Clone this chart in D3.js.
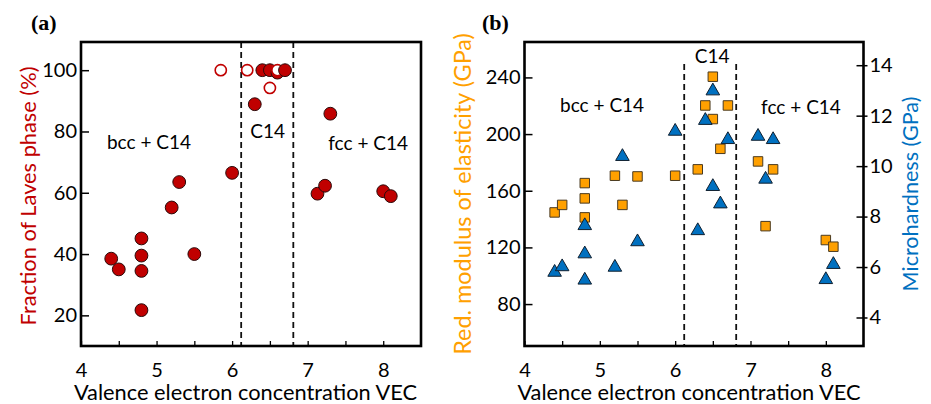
<!DOCTYPE html>
<html>
<head>
<meta charset="utf-8">
<script src="https://cdn.jsdelivr.net/npm/d3@7"></script>
<style>
  html, body { margin: 0; padding: 0; background: #fff; }
  svg { display: block; font-family: Lato, "Open Sans", sans-serif; }
</style>
</head>
<body>
<svg id="chart" width="931" height="404"></svg>
<script>
// ---- Panel (a): fraction of Laves phase vs VEC (draw order kept) ----
const fracVEC    = [4.4, 4.5, 4.8, 4.8, 4.8, 4.8, 5.2, 5.3, 5.5, 6.0, 6.3, 6.4, 6.5, 6.6, 7.13, 7.23, 7.3, 8.0, 8.1, 5.85, 6.2, 6.5, 6.6, 6.7];
const fracValue  = [38.5, 35, 45.1, 39.5, 34.5, 21.7, 55.2, 63.5, 40, 66.5, 88.9, 100, 100, 99.2, 59.7, 62.3, 85.8, 60.5, 58.9, 100, 100, 94.2, 100, 100];
const fracHollow = [false, false, false, false, false, false, false, false, false, false, false, false, false, false, false, false, false, false, false, true, true, true, true, false];

// ---- Panel (b): reduced modulus (squares, left axis) ----
const modVEC   = [4.4, 4.5, 4.8, 4.8, 4.8, 5.2, 5.3, 5.5, 6.0, 6.3, 6.4, 6.5, 6.5, 6.7, 6.6, 7.1, 7.3, 7.2, 8.0, 8.1];
const modValue = [144.7, 150, 165.4, 154.6, 141.2, 170.6, 150, 170.1, 170.6, 175.1, 220.2, 240.5, 210.6, 220.2, 189.6, 180.7, 175.1, 135, 125.2, 120.5];

// ---- Panel (b): microhardness (triangles, right axis) ----
const hardVEC   = [4.4, 4.5, 4.8, 4.8, 4.8, 5.2, 5.3, 5.5, 6.0, 6.3, 6.4, 6.5, 6.5, 6.6, 6.7, 7.1, 7.3, 7.2, 8.0, 8.1];
const hardValue = [5.79, 6.01, 7.64, 6.52, 5.48, 5.99, 10.38, 7.0, 11.38, 7.44, 11.81, 12.98, 9.19, 8.5, 11.05, 11.18, 11.05, 9.48, 5.5, 6.1];

// ---- Axis ticks, phase boundaries and region labels ----
const vecTicks   = [4, 4.5, 5, 5.5, 6, 6.5, 7, 7.5, 8];
const fracTicks  = [20, 40, 60, 80, 100];
const modTicks   = [80, 120, 160, 200, 240];
const hardTicks  = [4, 6, 8, 10, 12, 14];
const boundaries = [6.12, 6.81];
const regionA = [{t: "bcc + C14", x: 4.9, y: 76.6}, {t: "C14", x: 6.47, y: 80.4}, {t: "fcc + C14", x: 7.8, y: 76.3}];
const regionB = [{t: "bcc + C14", x: 5.03, y: 221.2}, {t: "C14", x: 6.49, y: 255.7}, {t: "fcc + C14", x: 7.67, y: 219.8}];

const RED = "#c00000", ORANGE = "#ffa000", BLUE = "#0070c0";
const svg = d3.select("#chart");
const plotTop = 42, plotBottom = 346;
const tickFont = 20;

function frame(g, x0, x1) {
  g.append("rect").attr("x", x0).attr("y", plotTop).attr("width", x1 - x0).attr("height", plotBottom - plotTop)
    .attr("fill", "none").attr("stroke", "#000").attr("stroke-width", 2.6);
}

function xAxis(g, x) {
  const ax = g.append("g").attr("transform", `translate(0,${plotBottom})`)
    .call(d3.axisBottom(x).tickValues(vecTicks).tickSizeInner(-5).tickSizeOuter(0).tickPadding(17)
      .tickFormat(d => Number.isInteger(d) ? d : ""));
  ax.select(".domain").remove();
  ax.selectAll("line").attr("stroke", "#000").attr("stroke-width", 1.3);
  ax.selectAll("text").attr("font-size", tickFont).attr("fill", "#000").attr("font-family", "Lato");
}

function dashed(g, x, yStart) {
  g.selectAll(null).data(boundaries).join("line")
    .attr("x1", d => x(d)).attr("x2", d => x(d))
    .attr("y1", yStart).attr("y2", plotBottom)
    .attr("stroke", "#111").attr("stroke-width", 1.8).attr("stroke-dasharray", "6,4");
}

// ===== Panel (a) =====
{
  const x0 = 81, x1 = 421;
  const x = d3.scaleLinear().domain([4, 8.5]).range([x0, x1]);
  const y = d3.scaleLinear().domain([10, 109.2]).range([plotBottom, plotTop]);
  const g = svg.append("g");

  dashed(g, x, plotTop);

  const ay = g.append("g").attr("transform", `translate(${x0},0)`)
    .call(d3.axisLeft(y).tickValues(fracTicks).tickSizeInner(-8).tickSizeOuter(0).tickPadding(4));
  ay.select(".domain").remove();
  ay.selectAll("line").attr("stroke", "#000").attr("stroke-width", 1.5);
  ay.selectAll("text").attr("font-size", tickFont).attr("fill", "#000").attr("font-family", "Lato");
  xAxis(g, x);

  g.selectAll(null).data(regionA).join("text")
    .attr("x", d => x(d.x)).attr("y", d => y(d.y)).attr("text-anchor", "middle")
    .attr("dominant-baseline", "central").attr("font-size", 19).text(d => d.t);

  g.selectAll(null).data(fracVEC.map((v, i) => ({v, f: fracValue[i], h: fracHollow[i]}))).join("circle")
    .attr("cx", d => x(d.v)).attr("cy", d => y(d.f))
    .attr("r", d => d.h ? 5.6 : 6.4)
    .attr("fill", d => d.h ? "#fff" : RED)
    .attr("stroke", d => d.h ? RED : "#2a0a0a")
    .attr("stroke-width", d => d.h ? 1.6 : 1);

  frame(g, x0, x1);

  g.append("text").attr("transform", `translate(27,${(plotTop + plotBottom) / 2 + 2}) rotate(-90)`)
    .attr("text-anchor", "middle").attr("dominant-baseline", "central")
    .attr("font-size", 21.8).attr("fill", RED).text("Fraction of Laves phase (%)");
  g.append("text").attr("x", 245.5).attr("y", 391).attr("text-anchor", "middle")
    .attr("dominant-baseline", "central").attr("font-size", 21.8).text("Valence electron concentration VEC");
  g.append("text").attr("x", 31).attr("y", 30).attr("font-family", "Liberation Serif")
    .attr("font-weight", "bold").attr("font-size", 22).text("(a)");
}

// ===== Panel (b) =====
{
  const x0 = 524.5, x1 = 863.5;
  const x = d3.scaleLinear().domain([4, 8.5]).range([x0, x1]);
  const yL = d3.scaleLinear().domain([50.4, 265]).range([plotBottom, plotTop]);
  const yR = d3.scaleLinear().domain([2.87, 14.92]).range([plotBottom, plotTop]);
  const g = svg.append("g");

  dashed(g, x, 64);

  const aL = g.append("g").attr("transform", `translate(${x0},0)`)
    .call(d3.axisLeft(yL).tickValues(modTicks).tickSizeInner(-8).tickSizeOuter(0).tickPadding(4));
  aL.select(".domain").remove();
  aL.selectAll("line").attr("stroke", "#000").attr("stroke-width", 1.5);
  aL.selectAll("text").attr("font-size", tickFont).attr("fill", "#000").attr("font-family", "Lato");

  const aR = g.append("g").attr("transform", `translate(${x1},0)`)
    .call(d3.axisRight(yR).tickValues(hardTicks).tickSizeInner(4).tickSizeOuter(0).tickPadding(2));
  aR.select(".domain").remove();
  aR.selectAll("line").attr("x1", -7).attr("stroke", "#000").attr("stroke-width", 1.5);
  aR.selectAll("text").attr("font-size", tickFont).attr("fill", "#000").attr("font-family", "Lato");
  xAxis(g, x);

  g.selectAll(null).data(regionB).join("text")
    .attr("x", d => x(d.x)).attr("y", d => yL(d.y)).attr("text-anchor", "middle")
    .attr("dominant-baseline", "central").attr("font-size", 19).text(d => d.t);

  g.selectAll(null).data(modVEC.map((v, i) => ({v, m: modValue[i]}))).join("path")
    .attr("transform", d => `translate(${x(d.v)},${yL(d.m)})`)
    .attr("d", d3.symbol(d3.symbolSquare, 90)())
    .attr("fill", ORANGE).attr("stroke", "#4a3a20").attr("stroke-width", 1);

  g.selectAll(null).data(hardVEC.map((v, i) => ({v, h: hardValue[i]}))).join("path")
    .attr("transform", d => `translate(${x(d.v)},${yR(d.h)})`)
    .attr("d", d3.symbol(d3.symbolTriangle, 80)())
    .attr("fill", BLUE).attr("stroke", "#102030").attr("stroke-width", 1);

  frame(g, x0, x1);

  g.append("text").attr("transform", `translate(462,${(plotTop + plotBottom) / 2}) rotate(-90)`)
    .attr("text-anchor", "middle").attr("dominant-baseline", "central")
    .attr("font-size", 23.4).attr("fill", ORANGE).text("Red. modulus of elasticity (GPa)");
  g.append("text").attr("transform", `translate(910,${(plotTop + plotBottom) / 2}) rotate(-90)`)
    .attr("text-anchor", "middle").attr("dominant-baseline", "central")
    .attr("font-size", 21.6).attr("fill", BLUE).text("Microhardness (GPa)");
  g.append("text").attr("x", 689).attr("y", 391).attr("text-anchor", "middle")
    .attr("dominant-baseline", "central").attr("font-size", 21.8).text("Valence electron concentration VEC");
  g.append("text").attr("x", 482).attr("y", 30).attr("font-family", "Liberation Serif")
    .attr("font-weight", "bold").attr("font-size", 22).text("(b)");
}
</script>
</body>
</html>
